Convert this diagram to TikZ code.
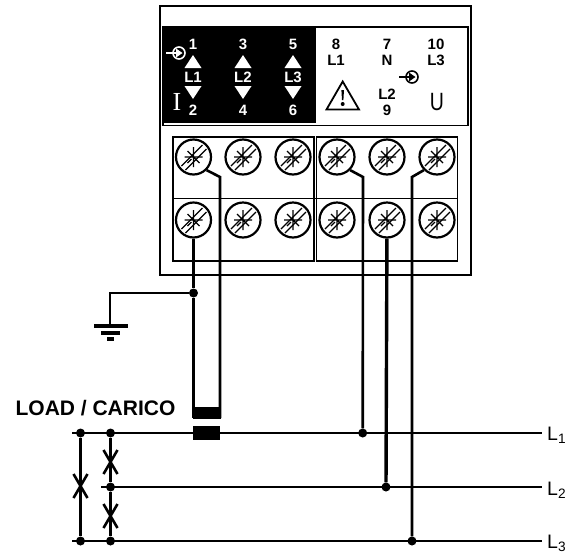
\documentclass[tikz,border=0pt]{standalone}
\usepackage{fontspec}
\setmainfont{Liberation Sans}
\newfontfamily\plaquefont{Liberation Serif}
\usetikzlibrary{arrows.meta}
\tikzset{
  screw/.style={circle,draw,line width=2.2pt,minimum size=35pt,inner sep=0pt},
  wire/.style={line width=2.6pt},
  heavywire/.style={line width=3.4pt},
  dot/.style={circle,fill=black,minimum size=9pt,inner sep=0pt},
  tag/.style={font=\fontsize{15}{15}\selectfont\bfseries,inner sep=0pt},
  linetag/.style={font=\fontsize{19.5}{20}\selectfont,inner sep=0pt,anchor=base west},
}
\newcommand{\screwmark}[1]{
  \draw[line width=1.3pt] (#1)+(-9,0) -- +(9,0) (#1)+(0,-10) -- +(0,10)
    (#1)+(-6,-6) -- +(6,6) (#1)+(-6,6) -- +(-2,2);
  \draw[line width=1.3pt] (#1)+(-12,9) -- +(9,-12) (#1)+(-8,13) -- +(13,-8);
}
\newcommand{\plugmark}[2]{
  \draw[#2,line width=1.6pt] (#1) circle (6pt);
  \draw[#2,line width=1.6pt] (#1)+(-13,0) -- +(-3,0);
  \fill[#2] (#1)+(3.5,0) -- +(-3,-4.5) -- +(-3,4.5) -- cycle;
}
\begin{document}
\begin{tikzpicture}[x=1pt,y=-1pt]
  \useasboundingbox (0,0) rectangle (573,555);

  % housing
  \draw[line width=1.5pt] (160,6) rectangle (471,275);
  \draw[line width=1.5pt] (163,27) rectangle (468,125.5);
  \fill (164,28) rectangle (316,123);
  \draw[line width=1.5pt] (173,137) rectangle (314,261);
  \draw[line width=1.5pt] (316.5,137) rectangle (457.5,261);
  \draw[line width=1pt] (173,198) -- (457.5,198);

  % terminals
  \node[screw] (t1) at (193.5,157) {};
  \node[screw] (t3) at (243,157) {};
  \node[screw] (t5) at (293,157) {};
  \node[screw] (t8) at (337,157) {};
  \node[screw] (t7) at (387,157) {};
  \node[screw] (t10) at (437,157) {};
  \node[screw] (t2) at (193.5,220) {};
  \node[screw] (t4) at (243,220) {};
  \node[screw] (t6) at (293,220) {};
  \node[screw] (t11) at (337,220) {};
  \node[screw] (t9) at (387,220) {};
  \node[screw] (t12) at (437,220) {};
  \foreach \name in {t1,t3,t5,t8,t7,t10,t2,t4,t6,t11,t9,t12}
    \screwmark{\name};

  % black panel
  \foreach \x/\top/\phase/\bottom in {193/1/L1/2,243/3/L2/4,293/5/L3/6}{
    \node[tag,text=white] (n\top) at (\x,44) {\top};
    \node[tag,text=white] (p\top) at (\x,77) {\phase};
    \node[tag,text=white] (n\bottom) at (\x,110) {\bottom};
    \fill[white] (\x,55) -- (\x+8.5,68) -- (\x-8.5,68) -- cycle;
    \fill[white] (\x,99) -- (\x+8.5,86) -- (\x-8.5,86) -- cycle;
  }
  \node[text=white,inner sep=0pt,font=\fontsize{26}{26}\selectfont\plaquefont] (cur) at (177,102) {I};
  \plugmark{179,53}{white}

  % white panel
  \node[tag] (n8) at (336,44) {8};
  \node[tag] (u1) at (336,60) {L1};
  \node[tag] (n7) at (387,44) {7};
  \node[tag] (un) at (387,60) {N};
  \node[tag] (n10) at (436,44) {10};
  \node[tag] (u3) at (436,60) {L3};
  \node[tag] (u2) at (387,94) {L2};
  \node[tag] (n9) at (387,110) {9};
  \node[inner sep=0pt,xscale=0.78,font=\fontsize{25}{25}\selectfont] (volt) at (437,102) {U};
  \plugmark{412,77}{black}
  \draw[line width=1.8pt,line join=miter] (342.7,81.5) -- (359,109.5) -- (326.5,109.5) -- cycle;
  \fill (341.4,90) -- (344,90) -- (343.4,100) -- (342,100) -- cycle;
  \fill (342.7,104) circle (2pt);

  % load lines
  \coordinate (a1) at (72,433);
  \coordinate (b1) at (542,433);
  \coordinate (a2) at (101,487);
  \coordinate (b2) at (542,487);
  \coordinate (a3) at (72,541);
  \coordinate (b3) at (542,541);
  \foreach \from/\to in {a1/b1,a2/b2,a3/b3}
    \draw[wire] (\from) -- (\to);
  \node[linetag] (l1) at (547,440.7) {L\textsubscript{1}};
  \node[linetag] (l2) at (547,495) {L\textsubscript{2}};
  \node[linetag] (l3) at (547,548) {L\textsubscript{3}};
  \node[inner sep=0pt,font=\fontsize{21}{21}\selectfont\bfseries] (carico) at (95.5,408) {LOAD / CARICO};

  % transformer
  \fill (193,407) rectangle (221,418.5);
  \fill (193,426) rectangle (220,440);
  \coordinate (ct1) at (193.5,418);
  \coordinate (ct2) at (220,418);

  % junctions
  \node[dot] (d1) at (80.5,433) {};
  \node[dot] (d2) at (110.5,433) {};
  \node[dot] (d3) at (110.5,487) {};
  \node[dot] (d4) at (80.5,541) {};
  \node[dot] (d5) at (110.5,541) {};
  \node[dot] (e1) at (362.7,433) {};
  \node[dot] (e2) at (386,487) {};
  \node[dot] (e3) at (412,541) {};
  \node[dot] (g0) at (193.5,293) {};
  \foreach \from/\to in {d1/d4,d2/d3,d3/d5}
    \draw[wire] (\from) -- (\to);

  % shorted loads
  \foreach \x/\y in {80.5/486,110.5/462,110.5/516}{
    \draw[wire] (\x-7,\y-12) -- (\x+7,\y+12);
    \draw[wire] (\x+7,\y-12) -- (\x-7,\y+12);
  }

  % meter wiring
  \draw[heavywire] (t2) -- (g0);
  \draw[heavywire] (g0) -- (ct1);
  \draw[heavywire] (t9) -- (e2);
  \draw[wire] (t1.-45) -- (220,177) -- (ct2);
  \draw[wire] (t8.-45) -- (363,177) -- (e1);
  \draw[wire] (t10.-135) -- (412,177) -- (e3);

  % earth
  \coordinate (g1) at (110,326);
  \draw[wire] (g0) -| (g1);
  \draw[heavywire] (94,326) -- (128,326);
  \draw[heavywire] (101,333) -- (120,333);
  \draw[heavywire] (107,339) -- (114,339);
\end{tikzpicture}
\end{document}
